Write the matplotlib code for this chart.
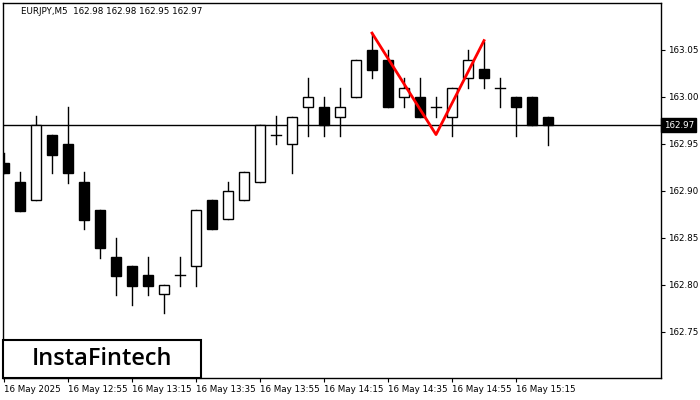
import matplotlib
matplotlib.use("Agg")
import matplotlib.pyplot as plt
from matplotlib.patches import Rectangle

opens  = [162.930,162.910,162.890,162.960,162.950,162.910,162.880,162.830,162.820,162.811,162.790,162.811,162.820,162.890,162.870,162.890,162.910,162.960,
          162.950,162.989,162.989,162.979,163.000,163.050,163.039,163.000,163.000,162.989,162.979,163.020,163.030,163.010,163.000,163.000,162.979]
closes = [162.919,162.879,162.970,162.938,162.919,162.869,162.839,162.810,162.799,162.799,162.800,162.811,162.880,162.860,162.900,162.920,162.970,162.960,
          162.979,163.000,162.970,162.989,163.039,163.029,162.989,163.010,162.979,162.989,163.010,163.039,163.020,163.010,162.989,162.970,162.970]
highs  = [162.940,162.920,162.980,162.960,162.989,162.920,162.880,162.850,162.820,162.830,162.800,162.830,162.880,162.890,162.910,162.920,162.970,162.980,
          162.979,163.020,163.000,163.010,163.039,163.068,163.050,163.020,163.020,163.000,163.010,163.050,163.059,163.020,163.000,163.000,162.979]
lows   = [162.919,162.879,162.890,162.919,162.908,162.860,162.829,162.789,162.779,162.789,162.770,162.799,162.799,162.860,162.870,162.890,162.910,162.950,
          162.919,162.959,162.959,162.959,163.000,163.020,162.989,162.989,162.979,162.979,162.959,163.010,163.010,162.989,162.959,162.970,162.949]
pattern_idx = [23, 27, 30]
pattern_px = [163.068, 162.960, 163.060]
yticks = [162.75, 162.80, 162.85, 162.90, 162.95, 163.00, 163.05]
xtick_idx = [0, 4, 8, 12, 16, 20, 24, 28, 32]
xtick_labels = ["16 May 2025","16 May 12:55","16 May 13:15","16 May 13:35","16 May 13:55",
                "16 May 14:15","16 May 14:35","16 May 14:55","16 May 15:15"]
last_price = 162.97

fig = plt.figure(figsize=(7, 4), dpi=100)
ax = fig.add_axes([3/700, 22/400, 658/700, 375/400])
ax.set_xlim(-0.06, 41.06)
ax.set_ylim(162.701, 163.100)
w = 0.62
for i, (o, c, h, l) in enumerate(zip(opens, closes, highs, lows)):
    ax.plot([i, i], [l, h], color="black", lw=1, zorder=2)
    bot, top = min(o, c), max(o, c)
    if abs(c - o) < 0.002:
        ax.plot([i - w/2, i + w/2], [o, o], color="black", lw=1, zorder=3)
    else:
        ax.add_patch(Rectangle((i - w/2, bot), w, top - bot, facecolor="black" if c < o else "white",
                               edgecolor="black", lw=1, zorder=3))
ax.axhline(last_price, color="black", lw=1, zorder=1)
ax.plot(pattern_idx, pattern_px, color="red", lw=2, zorder=4)

ax.yaxis.tick_right()
ax.set_yticks(yticks)
ax.set_yticklabels([f"{v:.2f}" for v in yticks], fontsize=6.3)
ax.set_xticks(xtick_idx)
ax.set_xticklabels(xtick_labels, fontsize=6.3, ha="left")
ax.tick_params(length=3, pad=2)
for s in ax.spines.values():
    s.set_linewidth(1)
ax.text(1.004, (last_price - 162.701) / (163.100 - 162.701), f"{last_price:.2f}", transform=ax.transAxes,
        fontsize=6.3, color="white", va="center", ha="left",
        bbox=dict(boxstyle="square,pad=0.25", facecolor="black", edgecolor="black"))
ax.text(0.027, 0.99, "EURJPY,M5  162.98 162.98 162.95 162.97", transform=ax.transAxes, fontsize=6.3, va="top")

fig.patches.append(Rectangle((3/700, 22/400), 198/700, 38/400, transform=fig.transFigure,
                             facecolor="white", edgecolor="black", lw=1.5, zorder=5))
fig.text(102/700, 1 - 359/400, "InstaFintech", fontsize=17, va="center", ha="center", zorder=6,
         family="Open Sans", weight="semibold")
fig.savefig("out.png", dpi=100)
